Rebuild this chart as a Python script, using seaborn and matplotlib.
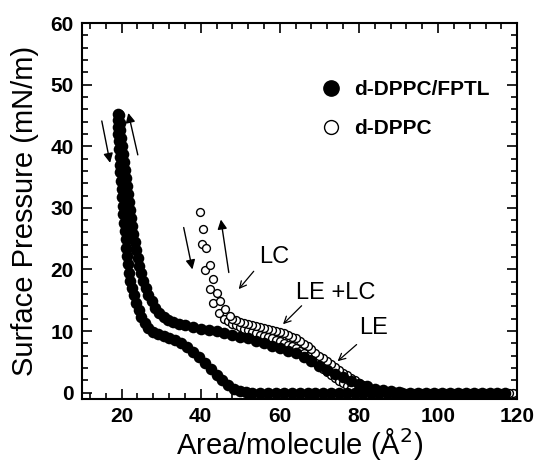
import numpy as np
import pandas as pd
import seaborn as sns
import matplotlib.pyplot as plt
from matplotlib.lines import Line2D
from matplotlib.ticker import MultipleLocator, AutoMinorLocator

# ========== DATA ==========
# d-DPPC/FPTL, compression branch (upper curve)
fptl_comp_area = [117, 115, 113, 111, 109, 107, 105, 103, 101, 99, 97, 95, 93, 91,
                  90, 88, 86, 84, 82, 80, 78, 76, 74, 72, 70, 68, 66, 64, 62, 60,
                  58, 56, 54, 52, 50, 48, 46, 44, 42, 40, 38, 36, 34.5, 33, 31.8,
                  30.6, 29.5, 28.5, 27.6, 26.8, 26.1, 25.5, 25.0, 24.5, 24.1, 23.7,
                  23.4, 23.0, 22.7, 22.4, 22.1, 21.8, 21.5, 21.3, 21.0, 20.8, 20.5,
                  20.3, 20.1, 19.9, 19.7, 19.5, 19.3]
fptl_comp_pi = [0, 0, 0, 0, 0, 0, 0, 0, 0, 0, 0, 0, 0, 0,
                0.1, 0.2, 0.35, 0.6, 1.0, 1.4, 1.9, 2.5, 3.1, 3.7, 4.4, 5.1, 5.8, 6.4,
                6.8, 7.2, 7.6, 8.0, 8.4, 8.8, 9.1, 9.4, 9.7, 10.0, 10.2, 10.4, 10.7,
                10.9, 11.2, 11.5, 11.8, 12.3, 13.0, 13.8, 14.8, 15.9, 17.0, 18.2,
                19.4, 20.6, 21.9, 23.2, 24.5, 25.8, 27.1, 28.4, 29.7, 31.0, 32.3,
                33.6, 34.9, 36.2, 37.5, 38.8, 40.1, 41.4, 42.6, 43.8, 45.0]

# d-DPPC/FPTL, expansion branch (lower curve)
fptl_exp_area = [19.0, 19.0, 19.1, 19.2, 19.3, 19.4, 19.5, 19.6, 19.7, 19.9, 20.0,
                 20.1, 20.3, 20.4, 20.6, 20.8, 21.0, 21.2, 21.4, 21.6, 21.9, 22.2,
                 22.6, 23.1, 23.7, 24.3, 25.0, 25.8, 26.8, 28.0, 29.3, 30.6, 32.0,
                 33.5, 35.0, 36.5, 38.0, 39.5, 41.0, 42.5, 44.0, 45.5, 47.0, 48.5,
                 50.0, 51.5, 53, 55, 57, 59, 61, 63, 65, 67, 69, 71, 73, 75, 77, 79,
                 81, 83, 85, 87, 89]
fptl_exp_pi = [45.3, 44.3, 43.2, 42.0, 40.8, 39.6, 38.3, 37.0, 35.8, 34.4, 33.0,
               31.7, 30.3, 29.0, 27.6, 26.2, 24.9, 23.5, 22.2, 20.8, 19.5, 18.2,
               17.0, 15.8, 14.6, 13.4, 12.3, 11.3, 10.5, 9.9, 9.5, 9.2, 8.9,
               8.5, 8.0, 7.4, 6.6, 5.7, 4.8, 3.8, 2.9, 2.0, 1.2, 0.6,
               0.2, 0.05, 0, 0, 0, 0, 0, 0, 0, 0, 0, 0, 0, 0, 0, 0,
               0, 0, 0, 0, 0]

# d-DPPC, compression branch (upper row)
dppc_comp_area = [120, 119, 118, 117, 116, 114, 112, 110, 108, 106, 104, 102, 100,
                  98, 96, 94, 92, 90, 88, 87, 86, 85, 84, 83, 82, 81, 80, 79, 78,
                  77, 76, 75, 74, 73, 72, 71, 70, 69, 68, 67, 66, 65, 64, 63, 62,
                  61, 60, 59, 58, 57, 56, 55, 54, 53, 52, 51, 50, 49, 48, 47.5,
                  46.2, 44.9, 44.1, 43.2, 42.4, 41.4, 40.7, 39.9]
dppc_comp_pi = [0, 0, 0, 0, 0, 0, 0, 0, 0, 0, 0, 0, 0,
                0, 0, 0, 0, 0, 0.05, 0.1, 0.2, 0.3, 0.45, 0.6, 0.9, 1.2, 1.6, 2.0,
                2.4, 2.8, 3.2, 3.7, 4.1, 4.6, 5.1, 5.6, 6.0, 6.5, 7.0, 7.5, 7.9,
                8.4, 8.8, 9.1, 9.3, 9.6, 9.8, 10.0, 10.15, 10.3, 10.45, 10.6, 10.8,
                11.0, 11.2, 11.35, 11.5, 11.75, 12.0, 12.5, 13.5, 14.9, 16.2, 18.4,
                20.7, 23.4, 26.5, 29.4]

# d-DPPC, expansion branch (lower row)
dppc_exp_area = [40.3, 41.1, 42.4, 43.2, 44.5, 46, 47, 48, 49, 50, 51, 52, 53, 54,
                 55, 56, 57, 58, 59, 60, 61, 62, 63, 64, 65, 66, 67, 68, 69, 70,
                 71, 72, 73, 74, 75, 76, 77, 78, 80, 82, 84]
dppc_exp_pi = [24.1, 19.9, 16.8, 14.6, 13.0, 12.0, 11.6, 11.2, 10.9, 10.6, 10.35,
               10.1, 9.85, 9.6, 9.4, 9.2, 9.0, 8.8, 8.55, 8.3, 8.05, 7.8, 7.5,
               7.2, 6.8, 6.4, 5.9, 5.4, 4.9, 4.4, 3.9, 3.4, 2.9, 2.4, 1.9, 1.5,
               1.1, 0.8, 0.4, 0.2, 0.1]

series_labels = ['d-DPPC/FPTL', 'd-DPPC']

fptl = pd.DataFrame({'area': fptl_comp_area + fptl_exp_area,
                     'pi': fptl_comp_pi + fptl_exp_pi})
dppc = pd.DataFrame({'area': dppc_exp_area + dppc_comp_area,
                     'pi': dppc_exp_pi + dppc_comp_pi})

# ========== PLOT ==========
sns.set_style('ticks')
plt.rcParams['font.family'] = ['Liberation Sans', 'DejaVu Sans']
plt.rcParams.update({'text.color': 'black', 'axes.labelcolor': 'black',
                     'xtick.color': 'black', 'ytick.color': 'black',
                     'axes.edgecolor': 'black'})

fig = plt.figure(figsize=(5.36, 4.61), dpi=100)
ax = fig.add_axes([0.153, 0.135, 0.812, 0.815])

sns.scatterplot(data=dppc, x='area', y='pi', ax=ax, marker='o', s=32,
                facecolor='white', edgecolor='black', linewidth=1.0, zorder=2)
sns.scatterplot(data=fptl, x='area', y='pi', ax=ax, marker='o', s=70,
                color='black', edgecolor='black', linewidth=0, zorder=3)

ax.set_xlim(10, 120)
ax.set_ylim(-1, 60)
ax.xaxis.set_major_locator(MultipleLocator(20))
ax.xaxis.set_minor_locator(AutoMinorLocator(5))
ax.yaxis.set_major_locator(MultipleLocator(10))
ax.yaxis.set_minor_locator(AutoMinorLocator(5))
ax.tick_params(which='both', direction='in', top=True, right=True, width=1.2)
ax.tick_params(which='major', length=7, labelsize=15, pad=6)
ax.tick_params(which='minor', length=4)
for lab in ax.get_xticklabels() + ax.get_yticklabels():
    lab.set_fontweight('bold')
for sp in ax.spines.values():
    sp.set_linewidth(1.5)

ax.set_xlabel('Area/molecule (Å$^2$)', fontsize=21, labelpad=0)
ax.set_ylabel('Surface Pressure (mN/m)', fontsize=21, labelpad=8)

# legend
handles = [Line2D([], [], marker='o', ls='', color='black', markersize=11),
           Line2D([], [], marker='o', ls='', markerfacecolor='white',
                  markeredgecolor='black', markersize=10, markeredgewidth=1.0)]
leg = ax.legend(handles, series_labels, loc='upper left', bbox_to_anchor=(0.53, 0.87),
                frameon=False, handlelength=1.0, handletextpad=0.6,
                labelspacing=0.95, borderaxespad=0,
                prop={'size': 15, 'weight': 'bold'})

# direction arrows
for tail, head in [((15.0, 44.1), (17.1, 37.3)), ((24.1, 38.6), (21.7, 45.4)),
                   ((35.7, 26.8), (37.9, 20.0)), ((47.1, 19.5), (45.1, 28.1))]:
    ax.annotate('', xy=head, xytext=tail,
                arrowprops=dict(arrowstyle='-|>', color='black', lw=1.0,
                                mutation_scale=14, shrinkA=0, shrinkB=0))

# phase labels
for txt, pos, tail, head in [('LC', (58.5, 22.0), (53.4, 19.7), (49.6, 16.8)),
                             ('LE +LC', (74.0, 16.2), (65.5, 14.1), (60.8, 11.1)),
                             ('LE', (83.8, 10.5), (79.4, 7.8), (74.6, 5.1))]:
    ax.text(pos[0], pos[1], txt, fontsize=17, ha='center', va='center')
    ax.annotate('', xy=head, xytext=tail,
                arrowprops=dict(arrowstyle='->', color='black', lw=0.9,
                                mutation_scale=12, shrinkA=0, shrinkB=0))

fig.savefig('out.png', dpi=100)
